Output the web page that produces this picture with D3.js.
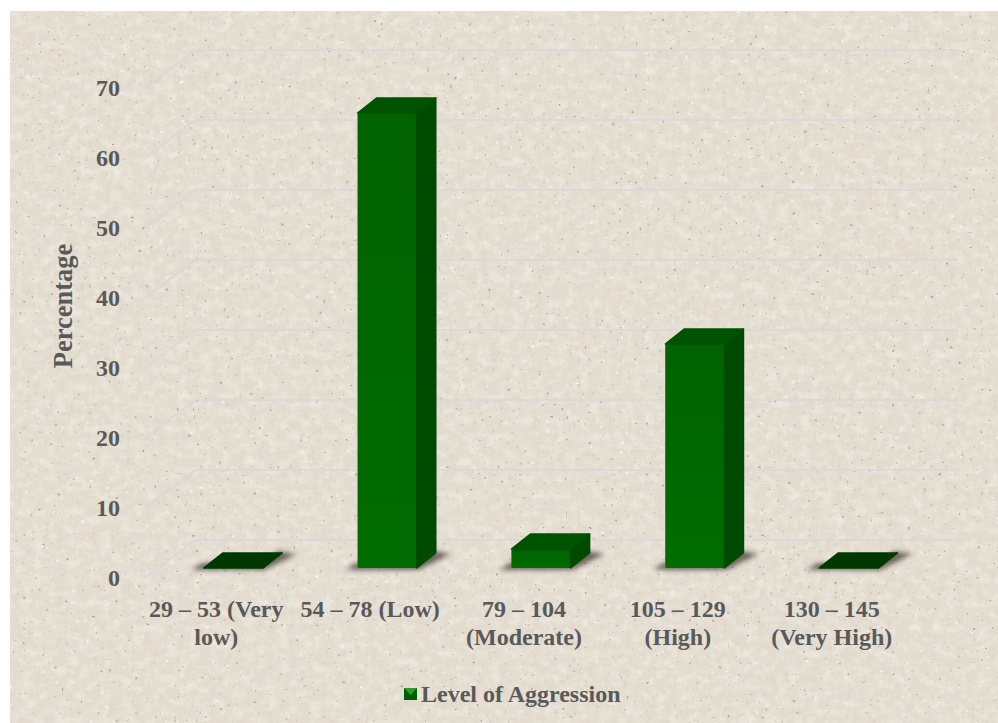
<!DOCTYPE html>
<html>
<head>
<meta charset="utf-8">
<script src="https://cdn.jsdelivr.net/npm/d3@7/dist/d3.min.js"></script>
<style>
html, body { margin: 0; padding: 0; background: #fff; overflow: hidden; }
svg { display: block; }
text { font-family: "Liberation Serif", "Times New Roman", serif; font-weight: bold; fill: #595959; }
</style>
</head>
<body>
<div id="chart"></div>
<script>
// Level of aggression, share of respondents in each score band
const categories = [
  ["29 – 53 (Very", "low)"],
  ["54 – 78 (Low)"],
  ["79 – 104", "(Moderate)"],
  ["105 – 129", "(High)"],
  ["130 – 145", "(Very High)"]
];
const percentages = [0, 65, 2.7, 32, 0];
const yTicks = [0, 10, 20, 30, 40, 50, 60, 70];
const seriesName = "Level of Aggression";
const yTitle = "Percentage";

const width = 998, height = 723;
const svg = d3.select("#chart").append("svg").attr("width", width).attr("height", height);
const defs = svg.append("defs");

// Paper-like backdrop: faint fibres plus sparse dark and light flecks
const paper = defs.append("filter").attr("id", "paper").attr("filterUnits", "userSpaceOnUse")
  .attr("x", 0).attr("y", 0).attr("width", width + 20).attr("height", height + 20);
paper.append("feTurbulence").attr("type", "fractalNoise").attr("baseFrequency", "0.22 0.06").attr("numOctaves", 3).attr("seed", 7).attr("result", "n");
paper.append("feColorMatrix").attr("in", "n").attr("type", "matrix")
  .attr("values", "0 0 0 0 0.70  0 0 0 0 0.65  0 0 0 0 0.56  0.9 0 0 0 -0.38").attr("result", "fibres");
paper.append("feTurbulence").attr("type", "fractalNoise").attr("baseFrequency", "0.09 0.12").attr("numOctaves", 3).attr("seed", 31).attr("result", "c");
paper.append("feColorMatrix").attr("in", "c").attr("type", "matrix")
  .attr("values", "0 0 0 0 0.95  0 0 0 0 0.93  0 0 0 0 0.88  0 1.0 0 0 -0.4").attr("result", "clouds");
paper.append("feTurbulence").attr("type", "fractalNoise").attr("baseFrequency", "0.26").attr("numOctaves", 2).attr("seed", 21).attr("result", "m");
paper.append("feColorMatrix").attr("in", "m").attr("type", "matrix")
  .attr("values", "0 0 0 0 0.42  0 0 0 0 0.38  0 0 0 0 0.32  0 7 0 0 -5.0").attr("result", "flecks");
paper.append("feTurbulence").attr("type", "fractalNoise").attr("baseFrequency", "0.2").attr("numOctaves", 2).attr("seed", 4).attr("result", "w");
paper.append("feColorMatrix").attr("in", "w").attr("type", "matrix")
  .attr("values", "0 0 0 0 0.96  0 0 0 0 0.95  0 0 0 0 0.92  0 0 5 0 -3.6").attr("result", "lights");
const merge = paper.append("feMerge").attr("result", "layers");
merge.append("feMergeNode").attr("in", "SourceGraphic");
merge.append("feMergeNode").attr("in", "clouds");
merge.append("feMergeNode").attr("in", "fibres");
merge.append("feMergeNode").attr("in", "lights");
merge.append("feMergeNode").attr("in", "flecks");
paper.append("feGaussianBlur").attr("in", "layers").attr("stdDeviation", 0.7);

const soft = defs.append("filter").attr("id", "soft").attr("x", "-30%").attr("y", "-200%").attr("width", "160%").attr("height", "500%");
soft.append("feGaussianBlur").attr("stdDeviation", 2.8);

// Textured sheet running off the right and bottom edges, with a white margin top and left
svg.append("rect").attr("width", width + 20).attr("height", height + 20)
  .attr("fill", "#e3dccf").attr("filter", "url(#paper)");
svg.append("path").attr("fill", "#fff")
  .attr("d", `M0,0 H${width} V11 H10 V${height} H0 Z`);

// Oblique projection of the 3-D plot box
const wallX = 195, wallRight = 958;
const depthX = 50, depthY = 38;     // floor front edge to back wall
const barDX = 19, barDY = 15;       // visible depth of a bar
const barInsetY = 10;

const y = d3.scaleLinear().domain([0, 70]).range([578, 88]);
const x = d3.scaleBand().domain(d3.range(categories.length)).range([156, 926]).paddingInner(0.615).paddingOuter(0.31);

// Gridlines: side-wall diagonal, then back wall
svg.append("g").selectAll("path").data(yTicks).join("path")
  .attr("fill", "none").attr("stroke", "#d8d8d9").attr("stroke-width", 2.2).attr("opacity", 0.85)
  .attr("d", t => {
    const p = d3.path();
    p.moveTo(wallX - depthX, y(t));
    p.lineTo(wallX, y(t) - depthY);
    p.lineTo(wallRight, y(t) - depthY);
    return p.toString();
  });

// Value axis
const axis = d3.axisLeft(y).tickValues(yTicks).tickSize(0).tickPadding(0);
const axisG = svg.append("g").attr("transform", "translate(120,0)").call(axis);
axisG.select(".domain").remove();
axisG.selectAll("text").attr("font-size", 24).attr("dy", "0.32em")
  .style("font-family", "'Liberation Serif', serif");

// Bars: ground shadow, then front, right side and top faces
const faces = svg.append("g").selectAll("g").data(percentages).join("g");
const base = y(0) - barInsetY;
const front = defs.append("linearGradient").attr("id", "frontFace").attr("x1", 0).attr("x2", 0).attr("y1", 0).attr("y2", 1);
front.append("stop").attr("offset", 0).attr("stop-color", "#006200");
front.append("stop").attr("offset", 1).attr("stop-color", "#016d01");

faces.append("path").attr("filter", "url(#soft)").attr("fill", "#37322a").attr("opacity", 0.7)
  .attr("d", (d, i) => {
    const l = x(i), r = l + x.bandwidth();
    return `M${l - 12},${base + 2} L${r + 2},${base + 2} L${r + barDX + 15},${base - barDY + 1} L${r + barDX - 4},${base - barDY - 2} L${r},${base - 5} L${l - 2},${base - 5} Z`;
  });

faces.append("rect").attr("class", "front")
  .attr("x", (d, i) => x(i)).attr("width", x.bandwidth())
  .attr("y", d => base - (y(0) - y(d))).attr("height", d => y(0) - y(d))
  .attr("rx", 1.5).attr("fill", "url(#frontFace)");

faces.append("path").attr("fill", "#004a00").attr("stroke", "#004a00").attr("stroke-width", 1.5).attr("stroke-linejoin", "round")
  .attr("d", (d, i) => {
    const r = x(i) + x.bandwidth(), t = base - (y(0) - y(d));
    return `M${r},${base} L${r + barDX},${base - barDY} L${r + barDX},${t - barDY} L${r},${t} Z`;
  });

faces.append("path").attr("fill", d => d === 0 ? "#003800" : "#005300").attr("stroke", d => d === 0 ? "#003800" : "#005300")
  .attr("stroke-width", 1.5).attr("stroke-linejoin", "round")
  .attr("d", (d, i) => {
    const l = x(i), r = l + x.bandwidth(), t = base - (y(0) - y(d));
    return `M${l},${t} L${r},${t} L${r + barDX},${t - barDY} L${l + barDX},${t - barDY} Z`;
  });

// Category labels, wrapped over two lines where needed
const labels = svg.append("g").selectAll("text").data(categories).join("text")
  .attr("font-size", 24).attr("text-anchor", "middle")
  .attr("transform", (d, i) => `translate(${x(i) + x.bandwidth() / 2 - 17},0)`);
labels.selectAll("tspan").data(d => d).join("tspan")
  .attr("x", 0).attr("y", (d, i) => 617 + i * 28).text(d => d);

// Value axis title
svg.append("text").attr("font-size", 26.5).attr("text-anchor", "middle")
  .attr("transform", "translate(72,306) rotate(-90)").text(yTitle);

// Legend key with a bevelled top
svg.append("rect").attr("x", 404).attr("y", 688).attr("width", 13).attr("height", 12).attr("fill", "#005f00");
svg.append("path").attr("d", "M404,688 L417,688 L410.5,695 Z").attr("fill", "#2f9a2f");
svg.append("text").attr("x", 421).attr("y", 702).attr("font-size", 24).text(seriesName);
</script>
</body>
</html>
